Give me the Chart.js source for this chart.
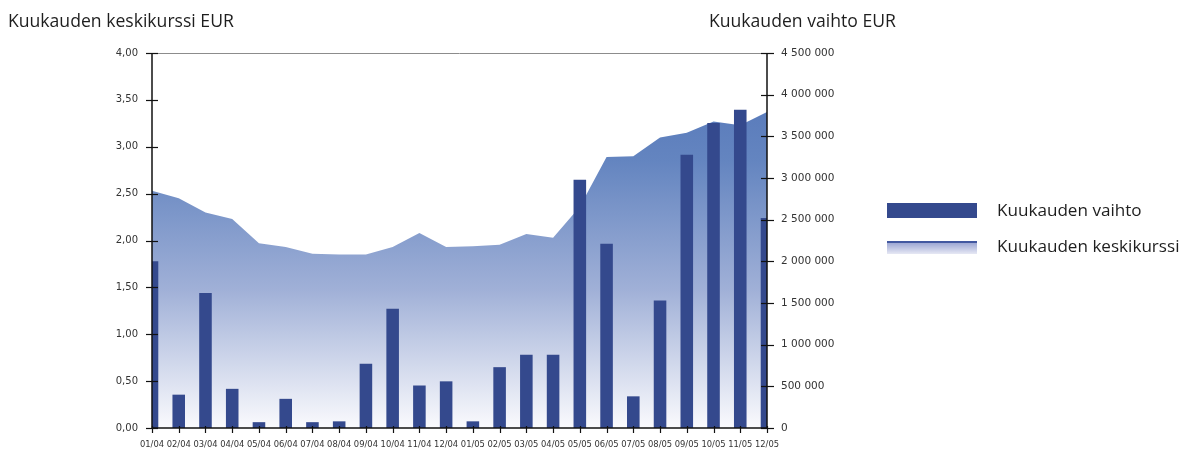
<!DOCTYPE html>
<html>
<head>
<meta charset="utf-8">
<script src="https://cdn.jsdelivr.net/npm/chart.js@4"></script>
<style>
  body { margin: 0; background: #fff; }
  #wrap { position: relative; width: 1183px; height: 451px; }
  .txt { position: absolute; font-family: "Open Sans", sans-serif; font-size: 17.6px; color: #1e1e1e; line-height: 24px; white-space: nowrap; }
  .leg { font-size: 17.1px; }
  .swatch { position: absolute; left: 887px; width: 90px; }
</style>
</head>
<body>
<div id="wrap">
  <canvas id="kurssiChart"></canvas>
  <div class="txt" style="left:8px; top:8px;">Kuukauden keskikurssi EUR</div>
  <div class="txt" style="left:709px; top:8px;">Kuukauden vaihto EUR</div>
  <div class="swatch" style="top:203px; height:15px; background:#34498d;"></div>
  <div class="txt leg" style="left:997px; top:198px;">Kuukauden vaihto</div>
  <div class="swatch" style="top:241px; height:11px; border-top:2px solid #4258a0; background:linear-gradient(#9ea8d4, #e6e8f4);"></div>
  <div class="txt leg" style="left:997px; top:234px;">Kuukauden keskikurssi</div>
</div>
<script>
const months = ['01/04', '02/04', '03/04', '04/04', '05/04', '06/04', '07/04', '08/04', '09/04', '10/04', '11/04', '12/04',
                '01/05', '02/05', '03/05', '04/05', '05/05', '06/05', '07/05', '08/05', '09/05', '10/05', '11/05', '12/05'];

// monthly average rate, EUR (left axis)
const avgRate = [2.53, 2.45, 2.30, 2.23, 1.97, 1.93, 1.86, 1.85, 1.85, 1.93, 2.08, 1.93,
                 1.94, 1.955, 2.07, 2.03, 2.36, 2.89, 2.90, 3.10, 3.15, 3.27, 3.23, 3.37];

// monthly turnover, EUR (right axis)
const turnover = [2000000, 400000, 1620000, 470000, 70000, 350000, 70000, 80000, 770000, 1430000, 510000, 560000,
                  80000, 730000, 880000, 880000, 2980000, 2210000, 380000, 1530000, 3280000, 3660000, 3820000, 2520000];

const rateTicks = { min: 0, max: 4, step: 0.5 };
const turnoverTicks = { min: 0, max: 4500000, step: 500000 };

// axis lines and tick marks that cross the axis
const axisMarks = {
    id: 'axisMarks',
    afterDatasetsDraw(chart) {
        const { ctx, chartArea: a, scales } = chart;
        const seg = (x1, y1, x2, y2) => { ctx.beginPath(); ctx.moveTo(x1, y1); ctx.lineTo(x2, y2); ctx.stroke(); };
        ctx.save();
        ctx.lineWidth = 1;
        ctx.strokeStyle = '#8c8c8c';
        seg(a.left, a.top + 0.5, a.right, a.top + 0.5);
        ctx.lineWidth = 1.5;
        ctx.strokeStyle = '#111';
        seg(a.left, a.top, a.left, a.bottom + 1);
        seg(a.right, a.top, a.right, a.bottom + 1);
        seg(a.left, a.bottom, a.right, a.bottom);
        ctx.lineWidth = 1.2;
        scales.y.ticks.forEach(t => {
            const py = Math.round(scales.y.getPixelForValue(t.value)) + 0.5;
            seg(a.left - 6, py, a.left + 6, py);
        });
        scales.y2.ticks.forEach(t => {
            const py = Math.round(scales.y2.getPixelForValue(t.value)) + 0.5;
            seg(a.right - 6, py, a.right + 7, py);
        });
        scales.x.ticks.forEach((t, i) => {
            const px = Math.round(scales.x.getPixelForTick(i)) + 0.5;
            seg(px, a.bottom - 2, px, a.bottom + 5);
        });
        ctx.restore();
    }
};

const kurssiChart = new Chart(document.getElementById('kurssiChart'), {
    data: {
        labels: months,
        datasets: [
            {
                type: 'bar',
                label: 'Kuukauden vaihto',
                data: turnover,
                yAxisID: 'y2',
                backgroundColor: '#34498d',
                categoryPercentage: 1,
                barPercentage: 0.47,
                order: 1
            },
            {
                type: 'line',
                label: 'Kuukauden keskikurssi',
                data: avgRate,
                yAxisID: 'y',
                fill: 'origin',
                borderWidth: 0,
                pointRadius: 0,
                tension: 0,
                backgroundColor(c) {
                    const a = c.chart.chartArea;
                    if (!a) return 'rgba(120,150,200,1)';
                    const g = c.chart.ctx.createLinearGradient(0, a.top, 0, a.bottom);
                    g.addColorStop(0, 'rgb(80,114,182)');
                    g.addColorStop(0.29, 'rgb(100,133,192)');
                    g.addColorStop(0.63, 'rgb(160,176,215)');
                    g.addColorStop(1, 'rgb(250,250,253)');
                    return g;
                },
                order: 2
            }
        ]
    },
    options: {
        responsive: true,
        maintainAspectRatio: false,
        animation: false,
        layout: { padding: { top: 53, right: 316, bottom: 0, left: 0 } },
        plugins: { legend: { display: false }, tooltip: { enabled: false } },
        scales: {
            x: {
                type: 'category',
                offset: false,
                grid: { display: false, drawTicks: false },
                border: { display: false },
                ticks: { font: { family: 'DejaVu Sans', size: 8.4 }, color: '#333', padding: 12, maxRotation: 0, autoSkip: false },
                afterFit(s) { s.height = 23; }
            },
            y: {
                position: 'left',
                min: rateTicks.min,
                max: rateTicks.max,
                grid: { display: false, drawTicks: false },
                border: { display: false },
                ticks: {
                    stepSize: rateTicks.step,
                    font: { family: 'DejaVu Sans', size: 10 },
                    color: '#333',
                    padding: 14,
                    callback: v => v.toFixed(2).replace('.', ',')
                },
                afterFit(s) { s.width = 152; }
            },
            y2: {
                position: 'right',
                min: turnoverTicks.min,
                max: turnoverTicks.max,
                grid: { display: false, drawTicks: false },
                border: { display: false },
                ticks: {
                    stepSize: turnoverTicks.step,
                    font: { family: 'DejaVu Sans', size: 10.5 },
                    color: '#333',
                    padding: 14,
                    callback: v => String(v).replace(/\B(?=(\d{3})+(?!\d))/g, ' ')
                },
                afterFit(s) { s.width = 100; }
            }
        }
    },
    plugins: [axisMarks]
});
</script>
</body>
</html>
